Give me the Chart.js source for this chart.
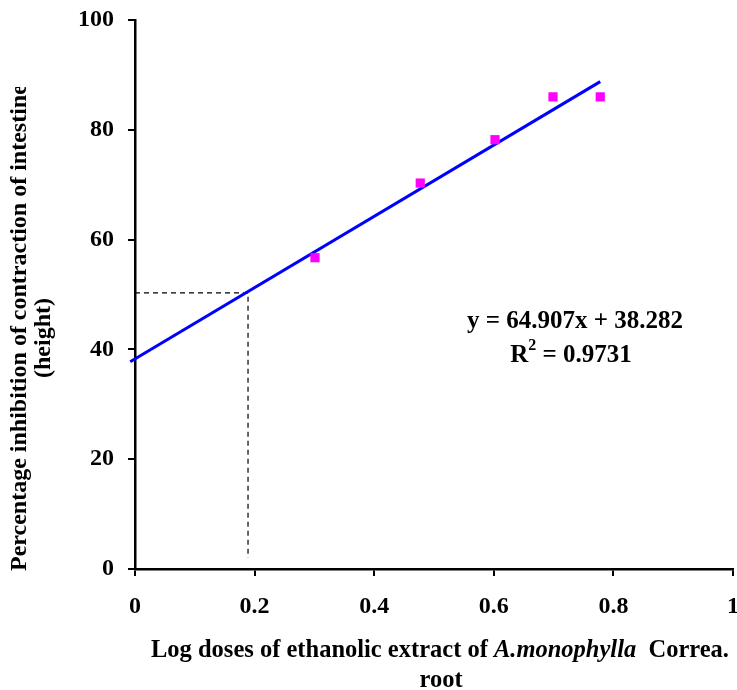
<!DOCTYPE html>
<html>
<head>
<meta charset="utf-8">
<script src="https://cdn.jsdelivr.net/npm/chart.js@4.4.1/dist/chart.umd.min.js"></script>
<style>
  body { margin: 0; background: #fff; }
  canvas { display: block; }
</style>
</head>
<body>
<canvas id="myChart" width="737" height="690"></canvas>
<script>
// data
const doseLog = [0.301, 0.477, 0.602, 0.699, 0.778];
const inhibition = [56.7, 70.3, 78.2, 86.0, 86.0];
const trendX = [-0.008, 0.778];
const trendY = [37.76, 88.78];
const guideX = [0, 0.189, 0.189];
const guideY = [50.3, 50.3, 2];
const xTicks = [0, 0.2, 0.4, 0.6, 0.8, 1];
const yTicks = [0, 20, 40, 60, 80, 100];

const serif = '"Liberation Serif", "Times New Roman", serif';
const toPoints = (xs, ys) => xs.map((x, i) => ({ x: x, y: ys[i] }));

// titles and equation drawn on the canvas (mixed italic + clipped y title)
const textPlugin = {
  id: 'texts',
  afterDraw(chart) {
    const ctx = chart.ctx;
    ctx.save();
    ctx.fillStyle = '#000';
    ctx.textBaseline = 'middle';

    // y axis title (first line cut at the top like the original)
    ctx.save();
    ctx.beginPath();
    ctx.rect(0, 87, 70, 600);
    ctx.clip();
    ctx.translate(20, 0);
    ctx.rotate(-Math.PI / 2);
    ctx.font = 'bold 24px ' + serif;
    ctx.textAlign = 'left';
    ctx.fillText('Percentage inhibition of contraction of intestine', -571, 0);
    ctx.textAlign = 'center';
    ctx.fillText('(height)', -338, 24);
    ctx.restore();

    // x axis title
    const parts = [
      ['Log doses of ethanolic extract of ', 'bold 24.5px ' + serif],
      ['A.monophylla', 'italic bold 24.5px ' + serif],
      ['  Correa.', 'bold 24.5px ' + serif],
    ];
    let total = 0;
    parts.forEach((p) => { ctx.font = p[1]; total += ctx.measureText(p[0]).width; });
    let x = 440 - total / 2;
    ctx.textAlign = 'left';
    parts.forEach((p) => {
      ctx.font = p[1];
      ctx.fillText(p[0], x, 651);
      x += ctx.measureText(p[0]).width;
    });
    ctx.font = 'bold 24.5px ' + serif;
    ctx.textAlign = 'center';
    ctx.fillText('root', 441, 681);

    // equation
    ctx.font = 'bold 25px ' + serif;
    ctx.fillText('y = 64.907x + 38.282', 575, 322);
    const a = 'R', b = '2', c = ' = 0.9731';
    const wa = ctx.measureText(a).width;
    const wc = ctx.measureText(c).width;
    ctx.font = 'bold 16px ' + serif;
    const wb = ctx.measureText(b).width;
    let sx = 571 - (wa + wb + wc) / 2;
    ctx.textAlign = 'left';
    ctx.font = 'bold 25px ' + serif;
    ctx.fillText(a, sx, 356);
    ctx.font = 'bold 16px ' + serif;
    ctx.fillText(b, sx + wa, 346);
    ctx.font = 'bold 25px ' + serif;
    ctx.fillText(c, sx + wa + wb, 356);
    ctx.restore();
  },
};

const ctx = document.getElementById('myChart').getContext('2d');
new Chart(ctx, {
  type: 'scatter',
  data: {
    datasets: [
      {
        label: 'guide',
        data: toPoints(guideX, guideY),
        showLine: true,
        borderColor: '#000',
        borderWidth: 1.2,
        borderDash: [5, 4],
        pointRadius: 0,
        order: 3,
      },
      {
        label: 'trend',
        data: toPoints(trendX, trendY),
        showLine: true,
        borderColor: '#0000FF',
        borderWidth: 3,
        pointRadius: 0,
        clip: false,
        order: 2,
      },
      {
        label: 'inhibition',
        data: toPoints(doseLog, inhibition),
        backgroundColor: '#FF00FF',
        borderWidth: 0,
        pointStyle: 'rect',
        pointRadius: 6.5,
        order: 1,
      },
    ],
  },
  options: {
    responsive: false,
    animation: false,
    layout: { autoPadding: false, padding: { left: 0, top: 20, right: 4, bottom: 0 } },
    plugins: { legend: { display: false }, tooltip: { enabled: false } },
    scales: {
      x: {
        type: 'linear',
        min: 0,
        max: 1,
        afterBuildTicks: (axis) => { axis.ticks = xTicks.map((v) => ({ value: v })); },
        afterFit: (axis) => {
          axis.height = 121;
          axis.paddingLeft = 0;
          axis.paddingRight = 0;
        },
        border: { color: '#000', width: 2.5 },
        grid: { drawOnChartArea: false, drawTicks: true, tickLength: 7, color: '#000', lineWidth: 2 },
        ticks: {
          color: '#000',
          padding: 16,
          maxRotation: 0,
          autoSkip: false,
          callback: (v) => String(v),
          font: { family: serif, size: 24, weight: 'bold' },
        },
      },
      y: {
        type: 'linear',
        min: 0,
        max: 100,
        afterBuildTicks: (axis) => { axis.ticks = yTicks.map((v) => ({ value: v })); },
        afterFit: (axis) => {
          axis.width = 135;
          axis.paddingTop = 0;
          axis.paddingBottom = 0;
        },
        border: { color: '#000', width: 2.5 },
        grid: { drawOnChartArea: false, drawTicks: true, tickLength: 7, color: '#000', lineWidth: 2 },
        ticks: {
          color: '#000',
          padding: 14,
          autoSkip: false,
          callback: (v) => String(v),
          font: { family: serif, size: 24, weight: 'bold' },
        },
      },
    },
  },
  plugins: [textPlugin],
});
</script>
</body>
</html>
